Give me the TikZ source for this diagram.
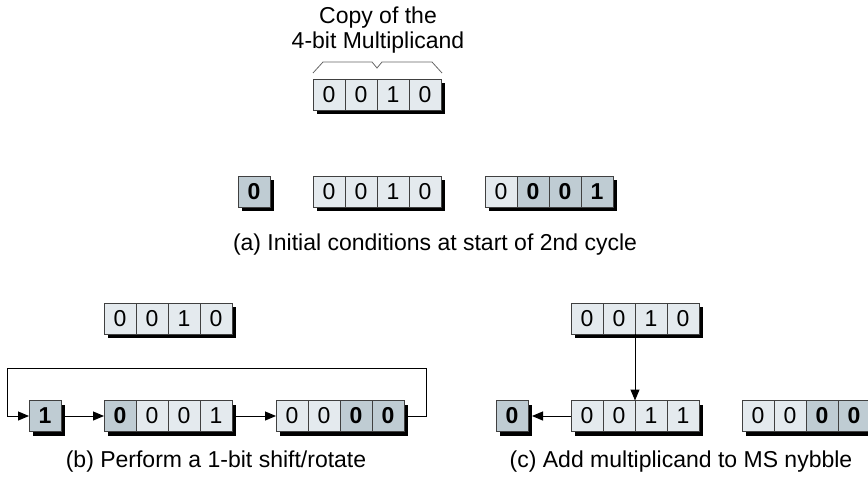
\documentclass[tikz,border=0pt]{standalone}
\usepackage{fontspec}
\setmainfont{Liberation Sans}
\usepackage{xcolor}
\usepackage{tikz}
\usetikzlibrary{arrows.meta,positioning,shadows}
\definecolor{celllt}{HTML}{E4EAEE}
\definecolor{celldk}{HTML}{BFCCD3}

\begin{document}
\begin{tikzpicture}[
  x=1pt, y=-1pt,
  font=\fontsize{23}{25}\selectfont,
  cell/.style={draw=black!75, line width=0.8pt, fill=celllt, inner sep=0pt,
               outer sep=0pt, minimum width=32pt, minimum height=31pt,
               drop shadow={shadow xshift=4pt, shadow yshift=-4pt,
                            fill=black, opacity=1}},
  hot/.style={cell, fill=celldk, font=\fontsize{23}{25}\selectfont\bfseries},
  brc/.style={draw=black!60, line width=0.8pt},
  arr/.style={-{Triangle[length=11pt, width=9pt]}, line width=1pt},
  captxt/.style={align=center}
]
\useasboundingbox (0,0) rectangle (868,479);

% copy of the multiplicand
\node[cell] (mc1) at (329,94.5) {0};
\foreach \i/\j/\d/\s in {2/1/0/cell, 3/2/1/cell, 4/3/0/cell}
  \node[\s, right=0pt of mc\j] (mc\i) {\d};
\draw[brc] ([yshift=6pt]mc1.north west) -- ++(10,-11) -- ++(49,0) -- ++(5,6)
  -- ++(5,-6) -- ++(50,0) -- ++(10,11);
\node[captxt] (mctxt) at (378,30.5) {Copy of the\\4-bit Multiplicand};

% (a) initial conditions
\node[hot] (sa) at (254,191.5) {0};
\node[cell] (am1) at (329,191.5) {0};
\foreach \i/\j/\d/\s in {2/1/0/cell, 3/2/1/cell, 4/3/0/cell}
  \node[\s, right=0pt of am\j] (am\i) {\d};
\node[cell] (ap1) at (501,191.5) {0};
\foreach \i/\j/\d/\s in {2/1/0/hot, 3/2/0/hot, 4/3/1/hot}
  \node[\s, right=0pt of ap\j] (ap\i) {\d};
\node[captxt] (capa) at (435,245) {(a) Initial conditions at start of 2nd cycle};

% (b) shift/rotate
\node[cell] (bm1) at (120,318.5) {0};
\foreach \i/\j/\d/\s in {2/1/0/cell, 3/2/1/cell, 4/3/0/cell}
  \node[\s, right=0pt of bm\j] (bm\i) {\d};
\node[hot] (sb) at (45,416) {1};
\node[hot] (bh1) at (120,416) {0};
\foreach \i/\j/\d/\s in {2/1/0/cell, 3/2/0/cell, 4/3/1/cell}
  \node[\s, right=0pt of bh\j] (bh\i) {\d};
\node[cell] (bl1) at (292,416) {0};
\foreach \i/\j/\d/\s in {2/1/0/cell, 3/2/0/hot, 4/3/0/hot}
  \node[\s, right=0pt of bl\j] (bl\i) {\d};
\coordinate (loopR) at (426,368);
\coordinate (loopL) at (7,368);
\draw[arr] ([xshift=4pt]bl4.east) -| (loopR) -- (loopL) |- (sb.west);
\draw[arr] ([xshift=4pt]sb.east) -- (bh1.west);
\draw[arr] ([xshift=4pt]bh4.east) -- (bl1.west);
\node[captxt] (capb) at (216,462) {(b) Perform a 1-bit shift/rotate};

% (c) add multiplicand
\node[cell] (cm1) at (587,318.5) {0};
\foreach \i/\j/\d/\s in {2/1/0/cell, 3/2/1/cell, 4/3/0/cell}
  \node[\s, right=0pt of cm\j] (cm\i) {\d};
\node[hot] (sc) at (512,416) {0};
\node[cell] (ch1) at (587,416) {0};
\foreach \i/\j/\d/\s in {2/1/0/cell, 3/2/1/cell, 4/3/1/cell}
  \node[\s, right=0pt of ch\j] (ch\i) {\d};
\node[cell] (cl1) at (758,416) {0};
\foreach \i/\j/\d/\s in {2/1/0/cell, 3/2/0/hot, 4/3/0/hot}
  \node[\s, right=0pt of cl\j] (cl\i) {\d};
\draw[arr] (cm2.south east) -- (ch2.north east);
\draw[arr] (ch1.west) -- ([xshift=4pt]sc.east);
\node[captxt] (capc) at (681,462) {(c) Add multiplicand to MS nybble};
\end{tikzpicture}
\end{document}
